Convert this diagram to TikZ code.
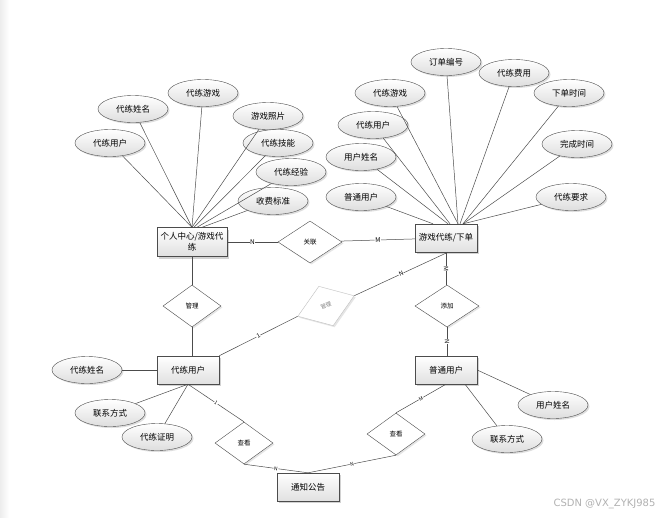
\documentclass[tikz,border=0pt]{standalone}
\usepackage{fontspec}
\setmainfont{Noto Sans CJK SC}
\newfontfamily\markfont{DejaVu Sans}
\usepackage{tikz}
\usetikzlibrary{positioning}
\usetikzlibrary{shapes.geometric}
\usetikzlibrary{shadows}

\begin{document}
\begin{tikzpicture}[x=1pt, y=-1pt,
    every node/.style={font=\fontsize{8.5}{11}\selectfont},
    entity/.style={draw=black!70, rectangle, minimum width=62pt, minimum height=28pt, top color=white, bottom color=black!12, drop shadow={shadow xshift=2pt, shadow yshift=-2pt, fill=black!35}},
    attr/.style={draw=black!70, ellipse, minimum width=70pt, minimum height=27pt, inner sep=0pt, top color=white, bottom color=black!13, drop shadow={shadow xshift=1.5pt, shadow yshift=-1.5pt, fill=black!25}},
    rel/.style={draw=black!70, diamond, fill=white, minimum width=58pt, minimum height=42pt, inner sep=0pt, font=\fontsize{6.5}{8}\selectfont, drop shadow={shadow xshift=1.5pt, shadow yshift=-1.5pt, fill=black!20}},
    card/.style={fill=white, inner sep=0.5pt, sloped, font=\fontsize{6}{7}\selectfont},
    link/.style={draw=black!70, line width=0.5pt}]

    \useasboundingbox (0,0) rectangle (666,517);
    \fill[white] (0,0) rectangle (666,517);
    \shade[left color=black!7, right color=white] (0,0) rectangle (9,517);

    % Entities
    \node at (192,242) (center) [entity, minimum width=70pt, minimum height=29pt, inner sep=1pt, align=center] {个人中心/游戏代\\练};
    \node at (446,238) (order) [entity] {游戏代练/下单};
    \node at (188,370) (booster) [entity] {代练用户};
    \node at (446,370) (player) [entity] {普通用户};
    \node at (308,487) (notice) [entity] {通知公告};

    % Relations
    \node at (310,242) (relate) [rel, minimum width=64pt] {关联};
    \node at (192,306) (manage) [rel] {管理};
    \node at (326,306) (admin) [rel, rotate=20, minimum width=60pt, draw=black!25, text=black!50, font=\fontsize{5.5}{7}\selectfont, drop shadow={shadow xshift=1pt, shadow yshift=-1pt, fill=black!10}] {管理};
    \node at (447,306) (add) [rel, minimum width=64pt] {添加};
    \node at (244,443) (viewl) [rel] {查看};
    \node at (396,434) (viewr) [rel] {查看};

    % Attributes of center
    \node at (110,143) (c_user) [attr] {代练用户};
    \node at (133,109) (c_name) [attr] {代练姓名};
    \node at (203,93) (c_game) [attr] {代练游戏};
    \node at (268,116) (c_photo) [attr] {游戏照片};
    \node at (278,143) (c_skill) [attr] {代练技能};
    \node at (291,172) (c_exp) [attr] {代练经验};
    \node at (273,201) (c_fee) [attr] {收费标准};

    % Attributes of order
    \node at (446,62) (o_no) [attr] {订单编号};
    \node at (514,73) (o_cost) [attr] {代练费用};
    \node at (569,93) (o_time) [attr] {下单时间};
    \node at (390,93) (o_game) [attr] {代练游戏};
    \node at (373,125) (o_user) [attr] {代练用户};
    \node at (361,157) (o_name) [attr] {用户姓名};
    \node at (577,144) (o_done) [attr] {完成时间};
    \node at (361,197) (o_player) [attr] {普通用户};
    \node at (571,197) (o_need) [attr] {代练要求};

    % Attributes of booster and player
    \node at (87,370) (b_name) [attr] {代练姓名};
    \node at (110,413) (b_contact) [attr] {联系方式};
    \node at (157,437) (b_proof) [attr] {代练证明};
    \node at (553,405) (p_name) [attr] {用户姓名};
    \node at (507,439) (p_contact) [attr] {联系方式};

    % Attribute lines
    \draw[link] (c_user) -- (center.north);
    \draw[link] (c_name) -- (center.north);
    \draw[link] (c_game) -- (center.north);
    \draw[link] (c_photo) -- (center.north);
    \draw[link] (c_skill) -- ([xshift=2pt]center.north);
    \draw[link] (c_exp) -- ([xshift=5pt]center.north);
    \draw[link] (c_fee) -- ([xshift=10pt]center.north);

    \draw[link] (o_player) -- ([xshift=-13pt]order.north);
    \draw[link] (o_name) -- ([xshift=2pt]order.north);
    \draw[link] (o_user) -- ([xshift=4pt]order.north);
    \draw[link] (o_game) -- ([xshift=12pt]order.north);
    \draw[link] (o_no) -- ([xshift=12pt]order.north);
    \draw[link] (o_cost) -- ([xshift=14pt]order.north);
    \draw[link] (o_time) -- ([xshift=17pt]order.north);
    \draw[link] (o_done) -- ([xshift=17pt]order.north);
    \draw[link] (o_need) -- ([xshift=17pt]order.north);

    \draw[link] (b_name) -- (booster);
    \draw[link] (b_contact) -- (booster.south);
    \draw[link] (b_proof) -- (booster.south);
    \draw[link] (p_name) -- (player.east);
    \draw[link] (p_contact) -- ([xshift=19pt]player.south);

    % Relation lines
    \draw[link] (center) -- node[card, font=\fontsize{6.5}{8}\selectfont] {N} (relate);
    \draw[link] (relate) -- node[card, font=\fontsize{6.5}{8}\selectfont] {M} (order);
    \draw[link] (center) -- (manage);
    \draw[link] (manage.south) -- (manage.south |- booster.north);
    \draw[link] (booster.north east) -- node[card] {1} (admin.west);
    \draw[link] (admin.east) -- node[card] {N} ([xshift=2pt]order.south);
    \draw[link] (order.south) -- node[card] {M} (order.south |- add.north);
    \draw[link] (add.south) -- node[card] {N} (add.south |- player.north);
    \draw[link] (booster.south) -- node[card, font=\fontsize{5}{6}\selectfont] {1} (viewl.north);
    \draw[link] (viewl.south) -- node[card, font=\fontsize{5}{6}\selectfont] {N} (notice.north);
    \draw[link] (notice.north) -- node[card, font=\fontsize{5}{6}\selectfont] {N} (viewr.south);
    \draw[link] (viewr.north) -- node[card, font=\fontsize{5}{6}\selectfont] {M} (player.south);

    % Watermark
    \node at (659,504) (mark) [anchor=east, text=black!30, font=\markfont\fontsize{10}{12}\selectfont] {CSDN @VX\_ZYKJ985};

\end{tikzpicture}
\end{document}
